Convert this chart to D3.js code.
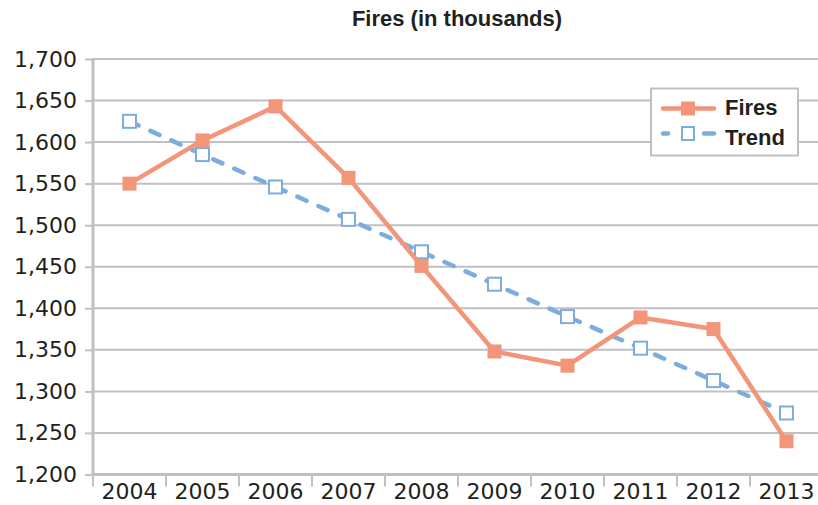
<!DOCTYPE html>
<html>
<head>
<meta charset="utf-8">
<script src="https://cdn.jsdelivr.net/npm/d3@7"></script>
<style>
  body { margin: 0; background: #fff; }
  #chart { width: 818px; height: 505px; overflow: hidden; }
</style>
</head>
<body>
<div id="chart"></div>
<script>
  var years = ['2004', '2005', '2006', '2007', '2008', '2009', '2010', '2011', '2012', '2013'];
  var fires = [1550, 1602, 1643, 1557, 1451, 1348, 1331, 1389, 1375, 1240];
  var trend = [1625, 1585, 1546, 1507, 1468, 1429, 1390, 1352, 1313, 1274];
  var yTicks = [1200, 1250, 1300, 1350, 1400, 1450, 1500, 1550, 1600, 1650, 1700];

  var fireColor = '#f29579';
  var trendColor = '#7eacdc';
  var gridColor = '#c1c1c4';
  var textColor = '#231f20';
  var tickFont = '"DejaVu Sans", sans-serif';
  var boldFont = '"Liberation Sans", Arial, sans-serif';

  var svg = d3.select('#chart').append('svg')
    .attr('width', 818)
    .attr('height', 505);

  // plot runs a little past the right edge, like the original
  var x = d3.scaleBand().domain(years).range([93, 823]);
  var y = d3.scaleLinear().domain([1200, 1700]).range([474.5, 59]);

  var fmt = d3.format(',');

  // gridlines
  svg.append('g').selectAll('line')
    .data(yTicks.slice(1))
    .enter().append('line')
    .attr('x1', 93).attr('x2', 823)
    .attr('y1', function (d) { return y(d); })
    .attr('y2', function (d) { return y(d); })
    .attr('stroke', gridColor)
    .attr('stroke-width', 2);

  // y axis
  var yAxis = svg.append('g')
    .attr('transform', 'translate(93,0)')
    .call(d3.axisLeft(y).tickValues(yTicks).tickFormat(fmt).tickSize(8).tickPadding(8));
  yAxis.select('.domain').remove();
  yAxis.selectAll('line').attr('stroke', gridColor).attr('stroke-width', 2);
  yAxis.selectAll('text')
    .attr('font-size', 22)
    .attr('fill', textColor)
    .attr('font-family', tickFont);

  svg.append('line')
    .attr('x1', 93).attr('x2', 93)
    .attr('y1', 58).attr('y2', 476)
    .attr('stroke', gridColor).attr('stroke-width', 3);

  // x axis
  svg.append('line')
    .attr('x1', 92).attr('x2', 823)
    .attr('y1', y(1200)).attr('y2', y(1200))
    .attr('stroke', gridColor).attr('stroke-width', 3);

  var bounds = years.map(function (d) { return x(d); }).concat([x.range()[1]]);
  svg.append('g').selectAll('line')
    .data(bounds)
    .enter().append('line')
    .attr('x1', function (d) { return d; })
    .attr('x2', function (d) { return d; })
    .attr('y1', y(1200)).attr('y2', y(1200) + 12)
    .attr('stroke', gridColor).attr('stroke-width', 2);

  svg.append('g').selectAll('text')
    .data(years)
    .enter().append('text')
    .attr('x', function (d) { return x(d) + x.bandwidth() / 2; })
    .attr('y', 499)
    .attr('text-anchor', 'middle')
    .attr('font-family', tickFont)
    .attr('font-size', 22)
    .attr('fill', textColor)
    .text(function (d) { return d; });

  var cx = function (d, i) { return x(years[i]) + x.bandwidth() / 2; };
  var line = d3.line()
    .x(function (d, i) { return cx(d, i); })
    .y(function (d) { return y(d); });

  // trend
  svg.append('path')
    .datum(trend)
    .attr('d', line)
    .attr('fill', 'none')
    .attr('stroke', trendColor)
    .attr('stroke-width', 4.5)
    .attr('stroke-linecap', 'round')
    .attr('stroke-dasharray', '10,13');

  svg.append('g').selectAll('rect')
    .data(trend)
    .enter().append('rect')
    .attr('x', function (d, i) { return cx(d, i) - 6.5; })
    .attr('y', function (d) { return y(d) - 6.5; })
    .attr('width', 13).attr('height', 13)
    .attr('fill', '#fff')
    .attr('stroke', trendColor)
    .attr('stroke-width', 2);

  // fires
  svg.append('path')
    .datum(fires)
    .attr('d', line)
    .attr('fill', 'none')
    .attr('stroke', fireColor)
    .attr('stroke-width', 4.5)
    .attr('stroke-linejoin', 'round');

  svg.append('g').selectAll('rect')
    .data(fires)
    .enter().append('rect')
    .attr('x', function (d, i) { return cx(d, i) - 7; })
    .attr('y', function (d) { return y(d) - 7; })
    .attr('width', 14).attr('height', 14)
    .attr('fill', fireColor);

  // title
  svg.append('text')
    .attr('x', 457).attr('y', 26)
    .attr('text-anchor', 'middle')
    .attr('font-family', boldFont)
    .attr('font-weight', 'bold')
    .attr('font-size', 22)
    .attr('fill', textColor)
    .text('Fires (in thousands)');

  // legend
  var legend = svg.append('g');
  legend.append('rect')
    .attr('x', 651).attr('y', 88.5)
    .attr('width', 147).attr('height', 67)
    .attr('fill', '#fff')
    .attr('stroke', gridColor)
    .attr('stroke-width', 2);

  legend.append('line')
    .attr('x1', 663).attr('x2', 714)
    .attr('y1', 108.5).attr('y2', 108.5)
    .attr('stroke', fireColor).attr('stroke-width', 4.5)
    .attr('stroke-linecap', 'round');
  legend.append('rect')
    .attr('x', 681).attr('y', 101.5)
    .attr('width', 14).attr('height', 14)
    .attr('fill', fireColor);

  legend.append('line')
    .attr('x1', 663).attr('x2', 714)
    .attr('y1', 133.5).attr('y2', 133.5)
    .attr('stroke', trendColor).attr('stroke-width', 4.5)
    .attr('stroke-linecap', 'round')
    .attr('stroke-dasharray', '5,15.5,5,15.5,10');
  legend.append('rect')
    .attr('x', 682).attr('y', 127)
    .attr('width', 12).attr('height', 13)
    .attr('fill', '#fff')
    .attr('stroke', trendColor).attr('stroke-width', 2);

  legend.selectAll('text.lbl')
    .data(['Fires', 'Trend'])
    .enter().append('text')
    .attr('class', 'lbl')
    .attr('x', 725)
    .attr('y', function (d, i) { return 115 + i * 30; })
    .attr('font-family', boldFont)
    .attr('font-weight', 'bold')
    .attr('font-size', 22)
    .attr('fill', textColor)
    .text(function (d) { return d; });
</script>
</body>
</html>
